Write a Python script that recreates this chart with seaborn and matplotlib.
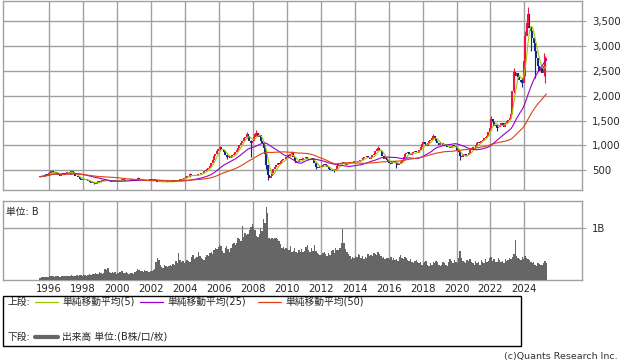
import matplotlib
matplotlib.use("Agg")
import matplotlib.pyplot as plt
import numpy as np
import pandas as pd
import seaborn as sns
from matplotlib.patches import Rectangle

# monthly closes, Jun 1995 .. Apr 2025
start_year, start_month = 1995, 6
close_by_year = {
    1995: [370, 390, 380, 400, 420, 410, 440],
    1996: [470, 480, 460, 450, 470, 430, 400, 380, 420, 440, 420, 450],
    1997: [470, 460, 440, 480, 460, 420, 380, 390, 360, 330, 300, 320],
    1998: [310, 330, 300, 280, 260, 250, 270, 240, 230, 260, 280, 270],
    1999: [280, 300, 290, 310, 280, 300, 290, 270, 300, 290, 280, 300],
    2000: [290, 310, 300, 320, 290, 300, 310, 300, 290, 320, 300, 290],
    2001: [300, 320, 340, 330, 300, 310, 290, 310, 300, 280, 300, 320],
    2002: [310, 330, 300, 290, 270, 260, 280, 270, 260, 270, 280, 270],
    2003: [270, 260, 280, 270, 290, 300, 290, 310, 320, 300, 330, 350],
    2004: [370, 390, 380, 420, 400, 390, 410, 380, 400, 420, 430, 440],
    2005: [450, 480, 500, 520, 540, 590, 650, 700, 780, 820, 880, 930],
    2006: [960, 930, 900, 870, 800, 760, 780, 740, 760, 800, 830, 870],
    2007: [900, 950, 1000, 1060, 1100, 1150, 1180, 1240, 1200, 1100, 1040, 1100],
    2008: [1180, 1240, 1260, 1180, 1220, 1100, 1040, 950, 820, 600, 400, 340],
    2009: [380, 440, 520, 560, 600, 640, 620, 680, 700, 730, 720, 760],
    2010: [800, 780, 830, 840, 760, 680, 650, 660, 700, 720, 700, 740],
    2011: [740, 760, 720, 700, 710, 740, 720, 650, 560, 540, 560, 580],
    2012: [570, 600, 620, 600, 560, 520, 500, 510, 490, 480, 520, 580],
    2013: [640, 650, 620, 660, 640, 600, 620, 640, 660, 670, 650, 680],
    2014: [690, 680, 660, 700, 710, 740, 770, 760, 780, 740, 720, 760],
    2015: [800, 820, 880, 920, 940, 910, 880, 780, 720, 740, 700, 680],
    2016: [640, 620, 660, 680, 660, 640, 600, 620, 660, 700, 760, 820],
    2017: [840, 860, 820, 810, 840, 870, 880, 860, 840, 900, 960, 1020],
    2018: [1070, 1020, 980, 1040, 1100, 1120, 1160, 1200, 1150, 1100, 1040, 1000],
    2019: [1040, 1060, 1000, 980, 1000, 970, 960, 940, 980, 1000, 990, 960],
    2020: [880, 860, 780, 760, 800, 820, 780, 800, 840, 900, 940, 960],
    2021: [960, 1000, 1040, 1080, 1060, 1100, 1120, 1150, 1180, 1200, 1280, 1350],
    2022: [1540, 1480, 1400, 1420, 1350, 1380, 1420, 1460, 1400, 1380, 1450, 1500],
    2023: [1520, 1560, 1640, 2100, 2480, 2400, 2450, 2380, 2320, 2280, 2250, 2700],
    2024: [3200, 3450, 3650, 3350, 3300, 3150, 3050, 2900, 2750, 2600, 2500, 2550],
    2025: [2450, 2600, 2700, 2750],
}

# notable monthly wicks: (year, month) -> (low, high)
wicks = {
    (1996, 2): (440, 500), (1997, 4): (430, 500), (1998, 8): (220, 270),
    (2001, 3): (310, 370), (2004, 4): (370, 440),
    (2006, 1): (900, 990), (2006, 6): (720, 820),
    (2007, 8): (1150, 1280), (2007, 11): (770, 1120),
    (2008, 3): (1200, 1320), (2008, 10): (520, 840), (2008, 11): (300, 560),
    (2010, 4): (780, 880), (2011, 9): (520, 640), (2012, 10): (460, 520),
    (2015, 5): (900, 980), (2016, 6): (540, 660), (2018, 8): (1130, 1240),
    (2020, 3): (700, 880), (2022, 1): (1350, 1600), (2022, 5): (1300, 1440),
    (2023, 5): (2050, 2560), (2023, 11): (2180, 2350),
    (2024, 1): (2400, 3300), (2024, 3): (3400, 3780), (2024, 5): (2900, 3400),
    (2024, 8): (2350, 3000), (2025, 2): (2400, 2850), (2025, 3): (2250, 2800),
}

# monthly volume in B
vol_by_year = {
    1995: [0.04, 0.05, 0.06, 0.05, 0.06, 0.05, 0.06],
    1996: [0.07, 0.08, 0.07, 0.06, 0.07, 0.08, 0.07, 0.06, 0.07, 0.08, 0.07, 0.07],
    1997: [0.08, 0.07, 0.08, 0.09, 0.08, 0.07, 0.08, 0.09, 0.08, 0.10, 0.09, 0.08],
    1998: [0.09, 0.10, 0.08, 0.09, 0.11, 0.10, 0.12, 0.11, 0.14, 0.12, 0.11, 0.16],
    1999: [0.13, 0.12, 0.14, 0.22, 0.20, 0.24, 0.16, 0.14, 0.15, 0.13, 0.15, 0.12],
    2000: [0.14, 0.16, 0.15, 0.18, 0.14, 0.13, 0.15, 0.14, 0.12, 0.14, 0.13, 0.12],
    2001: [0.16, 0.18, 0.22, 0.20, 0.18, 0.17, 0.16, 0.20, 0.18, 0.17, 0.16, 0.18],
    2002: [0.17, 0.19, 0.22, 0.34, 0.42, 0.38, 0.30, 0.26, 0.24, 0.30, 0.27, 0.26],
    2003: [0.28, 0.30, 0.27, 0.31, 0.30, 0.36, 0.32, 0.52, 0.38, 0.34, 0.36, 0.32],
    2004: [0.34, 0.38, 0.36, 0.35, 0.44, 0.48, 0.40, 0.42, 0.44, 0.55, 0.46, 0.42],
    2005: [0.40, 0.38, 0.44, 0.48, 0.46, 0.52, 0.55, 0.50, 0.58, 0.62, 0.60, 0.64],
    2006: [0.68, 0.66, 0.56, 0.52, 0.62, 0.66, 0.60, 0.55, 0.62, 0.70, 0.72, 0.68],
    2007: [0.72, 0.82, 0.80, 0.76, 1.04, 0.84, 0.92, 0.88, 0.90, 0.96, 1.02, 1.08],
    2008: [1.02, 0.96, 0.86, 0.84, 0.90, 1.00, 0.95, 1.18, 1.10, 1.41, 1.30, 0.81],
    2009: [0.80, 0.82, 0.80, 0.81, 0.82, 0.80, 0.76, 0.70, 0.62, 0.64, 0.60, 0.62],
    2010: [0.61, 0.58, 0.66, 0.55, 0.56, 0.62, 0.55, 0.52, 0.58, 0.55, 0.60, 0.54],
    2011: [0.56, 0.64, 0.68, 0.58, 0.55, 0.62, 0.56, 0.68, 0.56, 0.52, 0.50, 0.48],
    2012: [0.48, 0.52, 0.55, 0.50, 0.46, 0.52, 0.48, 0.56, 0.58, 0.52, 0.62, 0.58],
    2013: [0.58, 0.62, 0.72, 0.99, 0.71, 0.60, 0.54, 0.50, 0.46, 0.40, 0.44, 0.42],
    2014: [0.46, 0.44, 0.50, 0.48, 0.42, 0.46, 0.40, 0.44, 0.42, 0.50, 0.46, 0.48],
    2015: [0.46, 0.52, 0.50, 0.48, 0.55, 0.50, 0.46, 0.42, 0.44, 0.40, 0.43, 0.42],
    2016: [0.40, 0.44, 0.38, 0.42, 0.39, 0.40, 0.37, 0.44, 0.48, 0.42, 0.40, 0.44],
    2017: [0.42, 0.38, 0.36, 0.40, 0.34, 0.32, 0.36, 0.38, 0.34, 0.32, 0.35, 0.30],
    2018: [0.32, 0.34, 0.36, 0.30, 0.28, 0.32, 0.30, 0.35, 0.33, 0.36, 0.34, 0.30],
    2019: [0.28, 0.30, 0.34, 0.33, 0.30, 0.28, 0.35, 0.40, 0.36, 0.32, 0.38, 0.35],
    2020: [0.32, 0.42, 0.56, 0.42, 0.36, 0.34, 0.32, 0.38, 0.36, 0.40, 0.35, 0.33],
    2021: [0.30, 0.36, 0.33, 0.34, 0.30, 0.38, 0.35, 0.32, 0.40, 0.34, 0.36, 0.42],
    2022: [0.44, 0.36, 0.40, 0.35, 0.34, 0.42, 0.38, 0.35, 0.36, 0.32, 0.40, 0.36],
    2023: [0.38, 0.42, 0.40, 0.45, 0.50, 0.77, 0.46, 0.42, 0.40, 0.38, 0.44, 0.40],
    2024: [0.46, 0.42, 0.40, 0.38, 0.34, 0.32, 0.35, 0.30, 0.28, 0.32, 0.31, 0.30],
    2025: [0.30, 0.32, 0.36, 0.33],
}

price_ticks = [500, 1000, 1500, 2000, 2500, 3000, 3500]
year_ticks = list(range(1996, 2025, 2))
ma_windows = [5, 25, 50]
ma_colors = ["#99cc00", "#9900cc", "#dd4411"]
ma_labels = ["単純移動平均(5)", "単純移動平均(25)", "単純移動平均(50)"]

close = np.concatenate([close_by_year[y] for y in sorted(close_by_year)])
volume = np.concatenate([vol_by_year[y] for y in sorted(vol_by_year)])
n = len(close)
ym = [(start_year + (start_month - 1 + i) // 12, (start_month - 1 + i) % 12 + 1) for i in range(n)]
t = np.array([y + (m - 0.5) / 12 for y, m in ym])
opn = np.concatenate([[close[0]], close[:-1]])

df = pd.DataFrame({"t": t, "close": close, "open": opn, "vol": volume})
for w in ma_windows:
    df[f"ma{w}"] = df["close"].rolling(w, min_periods=1).mean()

sns.set_style("white")
plt.rcParams["font.family"] = ["DejaVu Sans", "Noto Sans CJK JP"]
grid_c = "#a0a0a0"
up_c, down_c = "#ee1144", "#0a2a8c"

fig = plt.figure(figsize=(6.38, 3.62), dpi=100)
ax = fig.add_axes([0.0052, 0.4743, 0.9075, 0.5227])
axv = fig.add_axes([0.0052, 0.2265, 0.9075, 0.2182])

xlim = (1993.29, 2027.41)

# price panel
up = (df["close"] >= df["open"]).to_numpy()
lo = np.minimum(df["open"], df["close"]).to_numpy()
hi = np.maximum(df["open"], df["close"]).to_numpy()
hi = np.where(hi - lo < 15, lo + 15, hi)
colors = np.where(up, up_c, down_c)
ax.vlines(df["t"], lo, hi, colors=colors, lw=1.5, zorder=3)
for i, key in enumerate(ym):
    if key in wicks:
        wl, wh = wicks[key]
        ax.vlines(t[i], wl, wh, colors=colors[i], lw=0.8, zorder=3)
for w, c in zip(ma_windows, ma_colors):
    sns.lineplot(x="t", y=f"ma{w}", data=df, ax=ax, color=c, lw=0.8, zorder=4)
ax.set_xlim(*xlim)
ax.set_ylim(100, 3900)
ax.set_xticks(year_ticks)
ax.set_yticks(price_ticks)
ax.set_yticklabels([f"{v:,}" for v in price_ticks])
ax.yaxis.tick_right()
ax.tick_params(axis="y", labelsize=7.3, length=3, color=grid_c, pad=4)
ax.tick_params(axis="x", labelbottom=False, length=0)
ax.set_xlabel("")
ax.set_ylabel("")
ax.grid(True, color=grid_c, lw=1)
ax.set_axisbelow(True)
for s in ax.spines.values():
    s.set_color(grid_c)
    s.set_linewidth(1)

# volume panel
axv.bar(df["t"], df["vol"], width=1 / 12, color="#666666", linewidth=0, zorder=3)
axv.set_xlim(*xlim)
axv.set_ylim(0, 1.53)
axv.set_xticks(year_ticks)
axv.set_xticklabels([str(y) for y in year_ticks])
axv.set_yticks([1.0])
axv.set_yticklabels(["1B"])
axv.yaxis.tick_right()
axv.tick_params(axis="y", labelsize=7.3, length=3, color=grid_c, pad=4)
axv.tick_params(axis="x", labelsize=7.3, length=0, pad=3)
axv.grid(True, color=grid_c, lw=1)
axv.set_axisbelow(True)
for s in axv.spines.values():
    s.set_color(grid_c)
    s.set_linewidth(1)
axv.text(0.005, 0.93, "単位: B", transform=axv.transAxes, fontsize=7,
         va="top", ha="left")

# legend box
fig.patches.append(Rectangle((0.0047, 0.045), 0.812, 0.138, transform=fig.transFigure,
                             fill=False, edgecolor="black", lw=1))
y1 = 1 - 301.7 / 362
y2 = 1 - 336.7 / 362
fig.text(7 / 638, y1, "上段:", fontsize=7, va="center")
xs = [35, 140, 258]
for x0, c, lab in zip(xs, ma_colors, ma_labels):
    fig.add_artist(plt.Line2D([x0 / 638, (x0 + 23) / 638], [y1, y1], color=c, lw=0.9,
                              transform=fig.transFigure))
    fig.text((x0 + 27) / 638, y1, lab, fontsize=7, va="center")
fig.text(7 / 638, y2, "下段:", fontsize=7, va="center")
fig.add_artist(plt.Line2D([35 / 638, 58 / 638], [y2, y2], color="#666666", lw=3,
                          transform=fig.transFigure))
fig.text(62 / 638, y2, "出来高 単位:(B株/口/枚)", fontsize=7, va="center")

fig.text(618 / 638, 1 - 356 / 362, "(c)Quants Research Inc.", fontsize=6.8,
         ha="right", va="center", color="#333333")

fig.savefig("out.png", dpi=100)
